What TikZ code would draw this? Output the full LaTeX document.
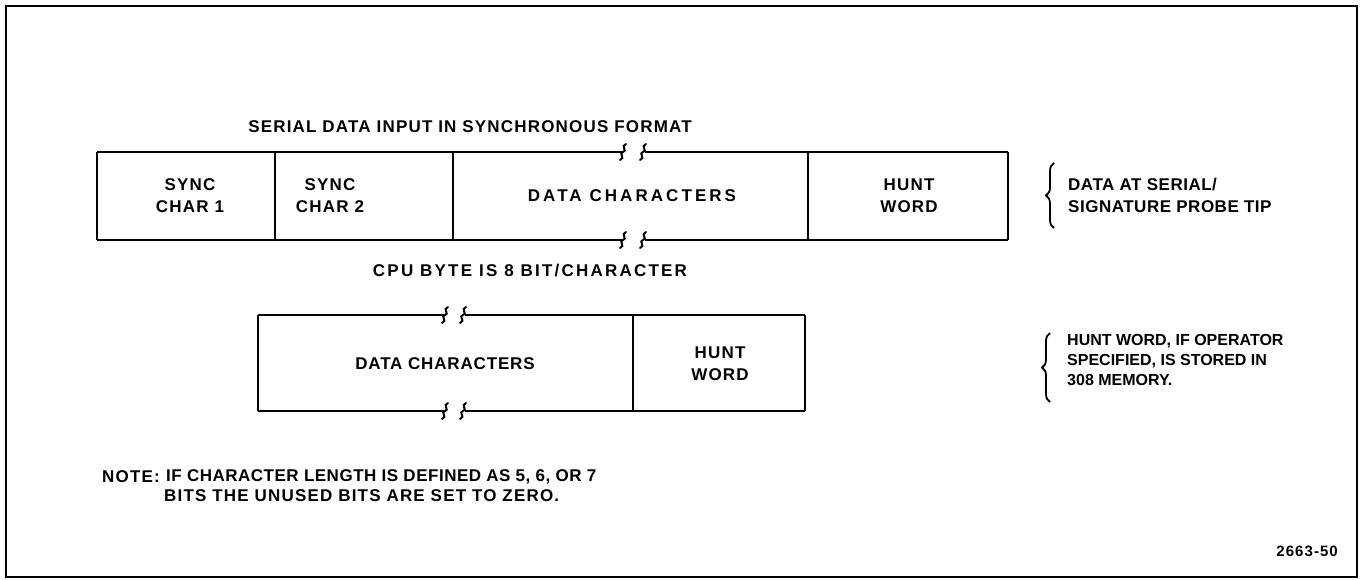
\documentclass[tikz,border=0pt]{standalone}
\usepackage{fontspec}
\setmainfont{Liberation Sans}[LetterSpace=7]
\usetikzlibrary{decorations.pathreplacing}
\tikzset{
  ln/.style={line width=2.2pt},
  txt/.style={font=\bfseries\fontsize{17}{22}\selectfont, inner sep=0pt},
  wide/.style={font=\bfseries\fontsize{17}{22}\selectfont\addfontfeature{LetterSpace=#1}},
  lefttxt/.style={txt, anchor=west, align=left},
  brk/.style={line width=2pt, line cap=round},
  brc/.style={line width=1.8pt, decorate, decoration={brace, amplitude=8pt, aspect=0.5}},
}
\newcommand{\sq}[2]{\draw[brk] (#1+3,#2-8) .. controls (#1-3,#2-6) and (#1+5,#2-1) .. (#1,#2) .. controls (#1-5,#2+1) and (#1+3,#2+6) .. (#1-3,#2+8);}
\begin{document}
\begin{tikzpicture}[x=1pt,y=-1pt]
\useasboundingbox (0,0) rectangle (1360,579);
% frame
\draw[line width=2.6pt] (6,6) rectangle (1357,577);

% top box
\draw[ln] (97,152) -- (97,240);
\draw[ln] (1008,152) -- (1008,240);
\draw[ln] (275,152) -- (275,240);
\draw[ln] (453,152) -- (453,240);
\draw[ln] (808,152) -- (808,240);
\draw[ln] (97,152) -- (622,152);
\draw[ln] (645,152) -- (1008,152);
\draw[ln] (97,240) -- (622,240);
\draw[ln] (645,240) -- (1008,240);
\sq{623}{152}\sq{643}{152}
\sq{623}{240}\sq{643}{240}

\node[txt, align=center] (s1) at (190,196) {SYNC\\CHAR 1};
\node[txt, align=center] (s2) at (330,196) {SYNC\\CHAR 2};
\node[txt, wide=18] (dc1) at (632,196) {DATA CHARACTERS};
\node[txt, align=center] (hw1) at (909,196) {HUNT\\WORD};

\node[txt] (title) at (470,127) {SERIAL DATA INPUT IN SYNCHRONOUS FORMAT};
\node[txt, wide=13] (cpu) at (530,271) {CPU BYTE IS 8 BIT/CHARACTER};

% lower box
\draw[ln] (258,315) -- (258,411);
\draw[ln] (633,315) -- (633,411);
\draw[ln] (805,315) -- (805,411);
\draw[ln] (258,315) -- (444,315);
\draw[ln] (465,315) -- (805,315);
\draw[ln] (258,411) -- (444,411);
\draw[ln] (465,411) -- (805,411);
\sq{445}{315}\sq{463}{315}
\sq{445}{411}\sq{463}{411}

\node[txt, wide=5] (dc2) at (445,364) {DATA CHARACTERS};
\node[txt, align=center] (hw2) at (720,364) {HUNT\\WORD};

% annotations
\draw[brc] (1054,228) -- (1054,163);
\node[lefttxt, font=\bfseries\fontsize{17}{22}\selectfont\addfontfeature{LetterSpace=3}] (a1) at (1068,195) {DATA AT SERIAL/\\SIGNATURE PROBE TIP};
\draw[brc] (1050,402) -- (1050,333);
\node[lefttxt, font=\bfseries\fontsize{16}{20}\selectfont\addfontfeature{LetterSpace=0}] (a2) at (1067,360) {HUNT WORD, IF OPERATOR\\SPECIFIED, IS STORED IN\\308 MEMORY.};

\node[lefttxt] (n1) at (102,477) {NOTE:};
\node[lefttxt, font=\bfseries\fontsize{17}{20}\selectfont\addfontfeature{LetterSpace=3}] (n2) at (166,477) {IF CHARACTER LENGTH IS DEFINED AS 5, 6, OR 7};
\node[lefttxt] (n3) at (164,496) {BITS THE UNUSED BITS ARE SET TO ZERO.};

\node[txt, anchor=east, font=\bfseries\fontsize{15}{18}\selectfont] (fig) at (1338,551) {2663-50};
\end{tikzpicture}
\end{document}
